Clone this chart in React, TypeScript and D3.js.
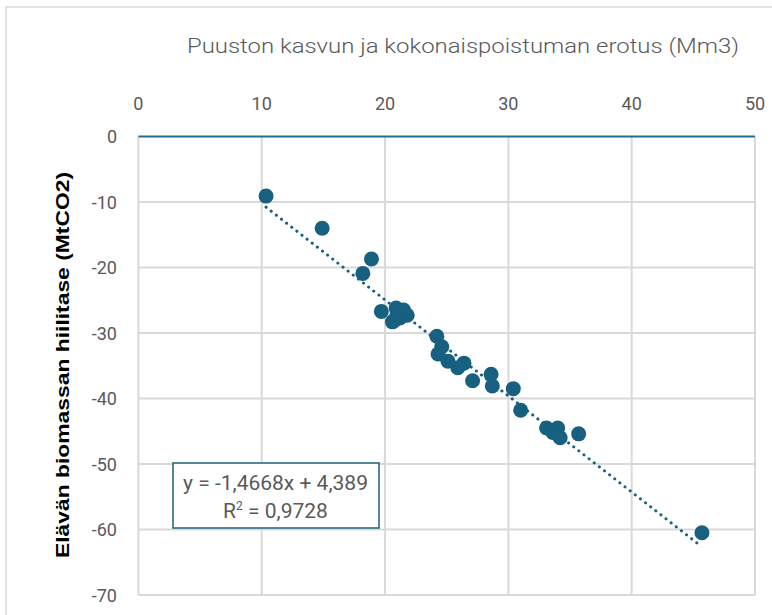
import React from "react";
import * as d3 from "d3";

const xValues = [10.35, 14.9, 18.9, 18.2, 19.7, 20.9, 21.5, 21.8, 20.6, 21.2, 20.8, 21.0, 24.2, 24.6, 24.3, 25.1, 26.4, 25.9, 27.1, 28.6, 28.7, 30.4, 31.0, 33.1, 34.0, 33.6, 34.2, 35.7, 45.7];
const yValues = [-9.1, -14.0, -18.7, -20.9, -26.7, -26.2, -26.5, -27.3, -28.3, -27.7, -28.0, -27.0, -30.5, -32.1, -33.2, -34.3, -34.6, -35.3, -37.3, -36.3, -38.1, -38.5, -41.8, -44.5, -44.5, -45.2, -46.0, -45.4, -60.5];
const xTicks = [0, 10, 20, 30, 40, 50];
const yTicks = [0, -10, -20, -30, -40, -50, -60, -70];
const slope = -1.4668;
const intercept = 4.389;
const title = "Puuston kasvun ja kokonaispoistuman erotus (Mm3)";
const yTitle = "Elävän biomassan hiilitase (MtCO2)";

const W = 772, H = 615;
const C = "#17607f";
const GRID = "#d9d9d9";
const TXT = "#595959";

export default function App() {
  const x = d3.scaleLinear().domain([0, 50]).range([138.4, 755]);
  const y = d3.scaleLinear().domain([0, -70]).range([136.5, 595]);
  const xMin = d3.min(xValues)!;
  const xMax = 45.3;
  const font = "Roboto, 'Liberation Sans', sans-serif";
  return (
    <svg width={W} height={H} style={{ position: "absolute", left: 0, top: 0, background: "#fff" }}>
      <rect x={6} y={7} width={W + 10} height={H + 10} fill="#fff" stroke={GRID} strokeWidth={1.5} />
      {xTicks.filter((t) => t > 0).map((t) => (
        <line key={"vx" + t} x1={x(t)} x2={x(t)} y1={y(0)} y2={y(-70)} stroke={GRID} strokeWidth={2} />
      ))}
      {yTicks.filter((t) => t < 0).map((t) => (
        <line key={"hy" + t} x1={x(0)} x2={x(50)} y1={y(t)} y2={y(t)} stroke={GRID} strokeWidth={2} />
      ))}
      <line x1={x(0)} x2={x(0)} y1={y(0)} y2={y(-70)} stroke={GRID} strokeWidth={2} />
      <line x1={x(0)} x2={x(50)} y1={y(0)} y2={y(0)} stroke="#1f6f93" strokeWidth={2} />
      {xTicks.map((t) => (
        <text key={"xt" + t} x={x(t)} y={110} textAnchor="middle" fontFamily={font} fontSize={18} fill={TXT}>{t}</text>
      ))}
      {yTicks.map((t) => (
        <text key={"yt" + t} x={117} y={y(t) + 6.5} textAnchor="end" fontFamily={font} fontSize={18} fill={TXT}>{t}</text>
      ))}
      <text x={187} y={53} textLength={552} lengthAdjust="spacingAndGlyphs" fontFamily={font} fontWeight={300} fontSize={21} fill={TXT}>{title}</text>
      <text transform={`translate(69, 558) rotate(-90)`} textLength={386} lengthAdjust="spacingAndGlyphs" fontFamily="'Liberation Sans', Arial, sans-serif" fontWeight="bold" fontSize={19} fill="#000">{yTitle}</text>
      <line x1={x(xMin)} x2={x(xMax)} y1={y(slope * xMin + intercept)} y2={y(slope * xMax + intercept)} stroke={C} strokeWidth={3} strokeDasharray="0.1 6.4" strokeLinecap="round" />
      {xValues.map((v, i) => (
        <circle key={i} cx={x(v)} cy={y(yValues[i])} r={7.5} fill={C} />
      ))}
      <rect x={173} y={463} width={206} height={65} fill="#fff" stroke="#1f5f7a" strokeWidth={1.5} />
      <text x={275.5} y={490} textAnchor="middle" fontFamily={font} fontSize={21} fill={TXT}>y = -1,4668x + 4,389</text>
      <text x={275.5} y={518} textAnchor="middle" fontFamily={font} fontSize={21} fill={TXT}>R<tspan dy={-8} fontSize={12}>2</tspan><tspan dy={8}> = 0,9728</tspan></text>
    </svg>
  );
}
